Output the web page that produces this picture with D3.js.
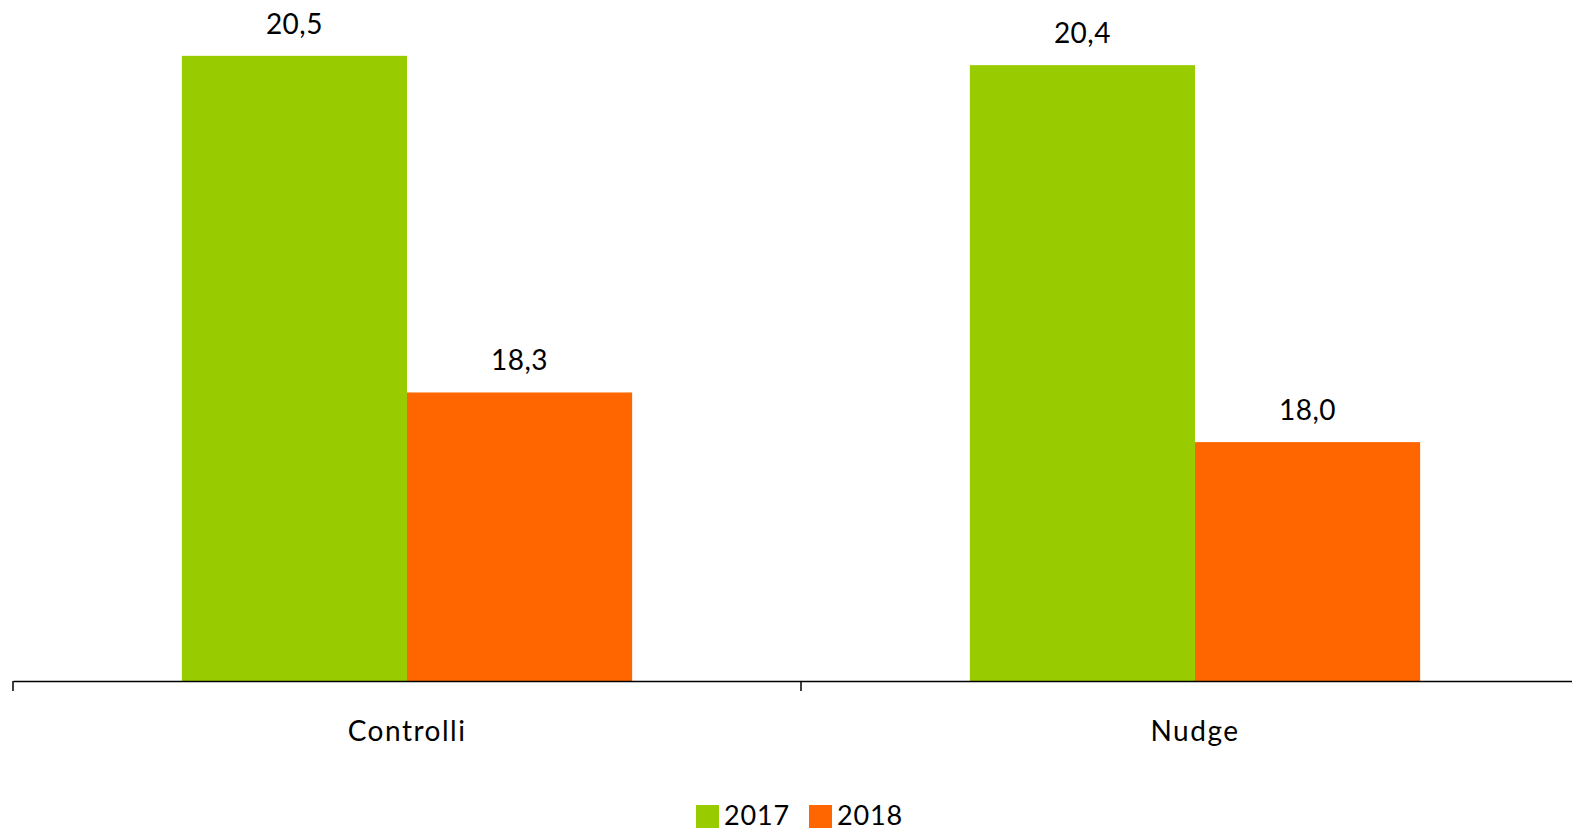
<!DOCTYPE html>
<html>
<head>
<meta charset="utf-8">
<script src="https://cdn.jsdelivr.net/npm/d3@7"></script>
<style>
  body { margin: 0; background: #fff; }
  text { font-family: Lato, "Open Sans", sans-serif; fill: #000; }
</style>
</head>
<body>
<script>
// data
var categories = ['Controlli', 'Nudge'];
var series = ['2017', '2018'];
var values2017 = [20.48, 20.42];
var values2018 = [18.31, 17.99];
var colors = ['#99cc00', '#ff6600'];

var width = 1572, height = 830;
var baseY = 681;

var svg = d3.select('body').append('svg').attr('width', width).attr('height', height);

var x0 = d3.scaleBand().domain(categories).range([13, 1589]).padding(0);
var x1 = d3.scaleBand().domain(series).range([0, x0.bandwidth()]).paddingInner(0).paddingOuter(0.75);
var y = d3.scaleLinear().domain([16.45, 20.84]).range([baseY, 0]);

var rows = categories.map(function (c, i) {
    return { cat: c, vals: [values2017[i], values2018[i]] };
});

var fmt = function (v) { return d3.format('.1f')(v).replace('.', ','); };

var g = svg.selectAll('g.cat').data(rows).enter().append('g')
    .attr('transform', function (d) { return 'translate(' + x0(d.cat) + ',0)'; });

g.selectAll('rect')
    .data(function (d) { return d.vals.map(function (v, j) { return { s: series[j], v: v, j: j }; }); })
    .enter().append('rect')
    .attr('x', function (d) { return x1(d.s); })
    .attr('width', x1.bandwidth())
    .attr('y', function (d) { return y(d.v); })
    .attr('height', function (d) { return baseY - y(d.v); })
    .attr('fill', function (d) { return colors[d.j]; });

g.selectAll('text.lbl')
    .data(function (d) { return d.vals.map(function (v, j) { return { s: series[j], v: v }; }); })
    .enter().append('text')
    .attr('class', 'lbl')
    .attr('x', function (d) { return x1(d.s) + x1.bandwidth() / 2; })
    .attr('y', function (d) { return y(d.v) - 22; })
    .attr('text-anchor', 'middle')
    .attr('font-size', 28)
    .style('letter-spacing', '0.5px')
    .text(function (d) { return fmt(d.v); });

// axis
var axis = svg.append('g').attr('transform', 'translate(0,' + baseY + ')')
    .call(d3.axisBottom(x0).tickSize(0).tickPadding(40));
axis.select('.domain').attr('stroke', '#000').attr('stroke-width', 1.5);
axis.selectAll('.tick text').attr('font-size', 28)
    .style('font-family', 'Lato, "Open Sans", sans-serif')
    .style('letter-spacing', '1.5px')
    .attr('fill', '#000');

var bounds = categories.map(function (c) { return x0(c); }).concat([x0.range()[1]]);
svg.selectAll('line.tk').data(bounds).enter().append('line')
    .attr('x1', function (d) { return d; }).attr('x2', function (d) { return d; })
    .attr('y1', baseY).attr('y2', baseY + 10)
    .attr('stroke', '#000').attr('stroke-width', 1.5);

// legend
var leg = svg.append('g').attr('transform', 'translate(696,805)');
var legX = [0, 113];
series.forEach(function (s, i) {
    leg.append('rect').attr('x', legX[i]).attr('y', 0).attr('width', 23).attr('height', 23).attr('fill', colors[i]);
    leg.append('text').attr('x', legX[i] + 28).attr('y', 20).attr('font-size', 27)
        .style('letter-spacing', '0.8px').text(s);
});
</script>
</body>
</html>
